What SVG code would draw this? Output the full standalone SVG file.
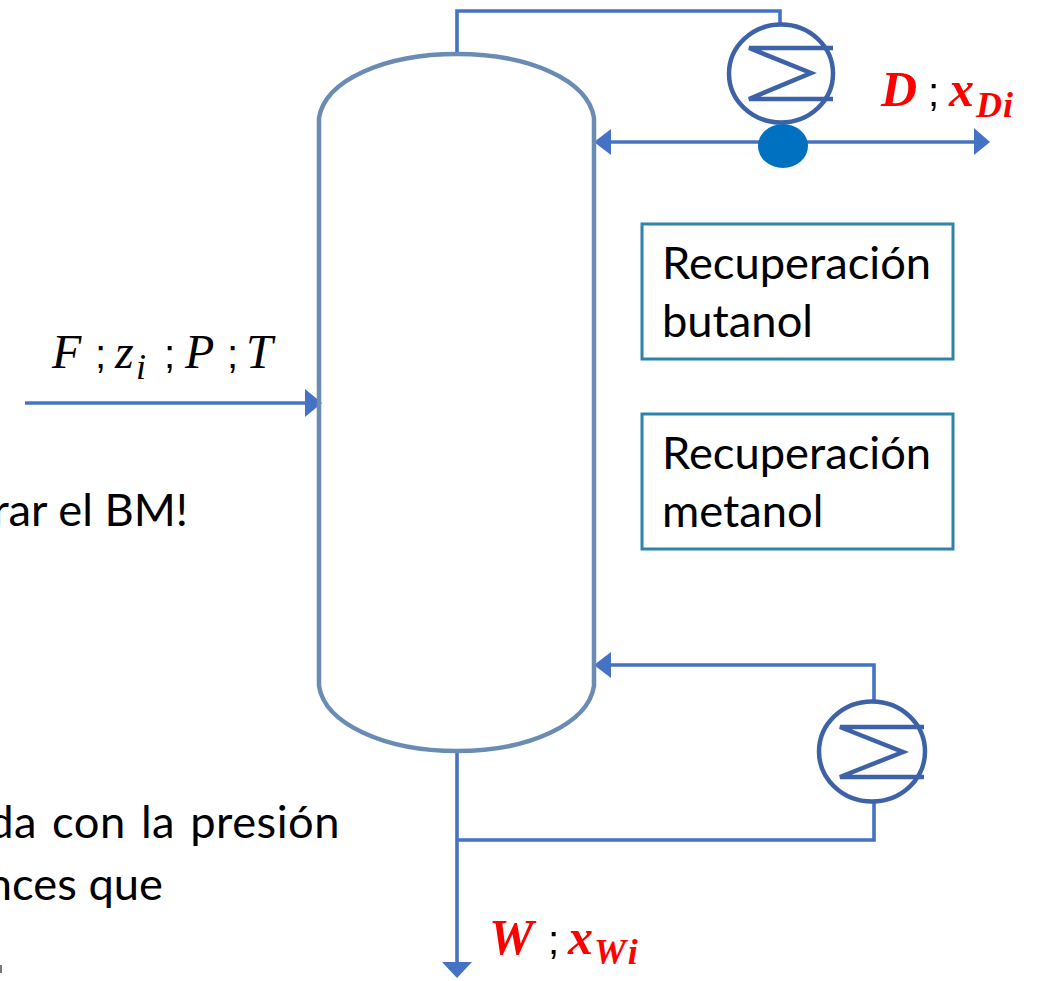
<svg xmlns="http://www.w3.org/2000/svg" width="1038" height="981" viewBox="0 0 1038 981">
<style>
text{font-family:"Lato","Liberation Sans",sans-serif;font-size:45.3px;fill:#000}
.m{font-family:"Liberation Serif",serif;font-style:italic;font-size:48px}
.r{font-family:"Liberation Serif",serif;font-style:italic;font-weight:bold;font-size:50px;fill:#f00}
.s{font-size:36px}
.sc{font-family:"Liberation Sans",sans-serif;font-size:40px}
.l{fill:none;stroke:#4472c4;stroke-width:3.6}
.hx{fill:none;stroke:#3e62a8;stroke-width:4.5}
.b{fill:#fff;stroke:#2e83ac;stroke-width:3}
.a{fill:#4472c4}
</style>
<g id="connectors">
<path class="l" d="M457 54V11H780V24"/>
<path class="l" d="M604 142H976"/><path class="a" d="M594 142L611 129V155Z"/><path class="a" d="M990 142L974 128V155Z"/>
<path class="l" d="M25 403H308"/><path class="a" d="M322 403L305 389V417Z"/>
<path class="l" d="M604 665H874V702"/><path class="a" d="M594 665L611 652V678Z"/>
<path class="l" d="M874 802V840H457"/>
<path class="l" d="M457 752V964"/><path class="a" d="M457 978L442 962H472Z"/>
</g>
<g id="column"><path d="M319 118C325 80 385 54 457 54C529 54 588 80 594 118V686C588 724 529 751 457 751C385 751 325 724 319 686Z" fill="none" stroke="#6a8cb4" stroke-width="4.5"/></g>
<g id="condenser">
<ellipse class="hx" cx="781" cy="73.5" rx="52" ry="49"/>
<path class="hx" d="M833 48H749L811 73L749 99H833"/>
</g>
<g id="junction"><ellipse cx="783" cy="146" rx="25" ry="22" fill="#0070c0"/></g>
<g id="reboiler">
<ellipse class="hx" cx="872" cy="751.5" rx="53" ry="50"/>
<path class="hx" d="M924 727H840L903 752L840 777H924"/>
</g>
<g id="box1"><rect class="b" x="642" y="224" width="311" height="135"/><text x="662" y="279">Recuperación</text><text x="662" y="337">butanol</text></g>
<g id="box2"><rect class="b" x="642" y="414" width="311" height="135"/><text x="662" y="469">Recuperación</text><text x="662" y="527">metanol</text></g>
<g id="labels">
<text class="m" x="52" y="368">F</text><text class="sc" x="95" y="368">;</text><text class="m" x="115" y="368">z</text><text class="m s" x="136" y="379">i</text><text class="sc" x="164" y="368">;</text><text class="m" x="185" y="368">P</text><text class="sc" x="227" y="368">;</text><text class="m" x="246" y="368">T</text>
<text class="r" x="881" y="106">D</text><text class="sc" x="928" y="106">;</text><text class="r" x="949" y="106">x</text><text class="r s" x="976" y="117" letter-spacing="1">Di</text>
<text class="r" x="489" y="954">W</text><text class="sc" x="548" y="954">;</text><text class="r" x="568" y="954">x</text><text class="r s" x="594" y="964" letter-spacing="3">Wi</text>
<text x="188" y="526" text-anchor="end">rar el BM!</text>
<text x="340" y="838" text-anchor="end" letter-spacing="0.5" word-spacing="3">da con la presión</text>
<text x="163" y="900" text-anchor="end">nces que</text>
</g>
<rect id="fragment" x="0" y="965" width="2" height="8" fill="#777"/>
</svg>
